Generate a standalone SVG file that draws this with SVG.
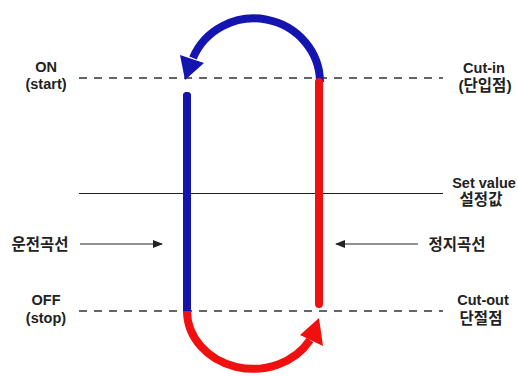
<svg xmlns="http://www.w3.org/2000/svg" width="518" height="377" viewBox="0 0 518 377">
<style>
.lbl{font-family:"Liberation Sans","Noto Sans CJK KR",sans-serif;font-weight:bold;font-size:14.5px;fill:#222;text-anchor:middle}
.ko{font-size:15.5px}
.dash{stroke:#333;stroke-width:1.6;stroke-dasharray:8 7;fill:none}
.blue{stroke:#1414b0;stroke-width:8;fill:none}
.red{stroke:#f01010;stroke-width:8;fill:none}
.thin{stroke:#222;stroke-width:1.2;fill:none}
</style>
<defs>
<marker id="ah" markerWidth="10" markerHeight="8" refX="9" refY="4" orient="auto" markerUnits="userSpaceOnUse">
<path d="M0,0 L10,4 L0,8 Z" fill="#222"/>
</marker>
</defs>
<g id="levels">
<line class="dash" x1="79" y1="78" x2="443" y2="78"/>
<line class="thin" x1="79" y1="193.5" x2="443" y2="193.5"/>
<line class="dash" x1="79" y1="311" x2="443" y2="311"/>
</g>
<g id="connectors">
<path class="blue" d="M320,82 A66 64 0 0 0 193,58"/>
<polygon points="185,80 180,55 204,63" fill="#1414b0"/>
<line class="blue" x1="187" y1="96" x2="187" y2="311" stroke-linecap="round"/>
<line class="blue" x1="187" y1="96" x2="187" y2="300" stroke-linecap="round"/>
<line class="red" x1="319" y1="82" x2="319" y2="304" stroke-linecap="round"/>
<line class="red" x1="319" y1="86" x2="319" y2="304" stroke-linecap="butt"/>
<path class="red" d="M187,311 A66 58 0 0 0 310,340"/>
<polygon points="319,318 300,335 323,346" fill="#f01010"/>
<line class="thin" x1="80" y1="244" x2="162" y2="244" marker-end="url(#ah)"/>
<line class="thin" x1="418" y1="244" x2="336" y2="244" marker-end="url(#ah)"/>
</g>
<g id="on"><text class="lbl" x="46" y="71.5">ON</text><text class="lbl" x="46" y="89">(start)</text></g>
<g id="off"><text class="lbl" x="46" y="305">OFF</text><text class="lbl" x="46" y="323">(stop)</text></g>
<g id="cutin"><text class="lbl" x="484" y="72.5">Cut-in</text><text class="lbl ko" x="485" y="91">(단입점)</text></g>
<g id="setvalue"><text class="lbl" x="484" y="187.5">Set value</text><text class="lbl ko" x="481" y="205">설정값</text></g>
<g id="cutout"><text class="lbl" x="483" y="305">Cut-out</text><text class="lbl ko" x="481" y="323.5">단절점</text></g>
<g id="run"><text class="lbl ko" x="40" y="249.5">운전곡선</text></g>
<g id="stopcurve"><text class="lbl ko" x="457" y="249.5">정지곡선</text></g>
</svg>
